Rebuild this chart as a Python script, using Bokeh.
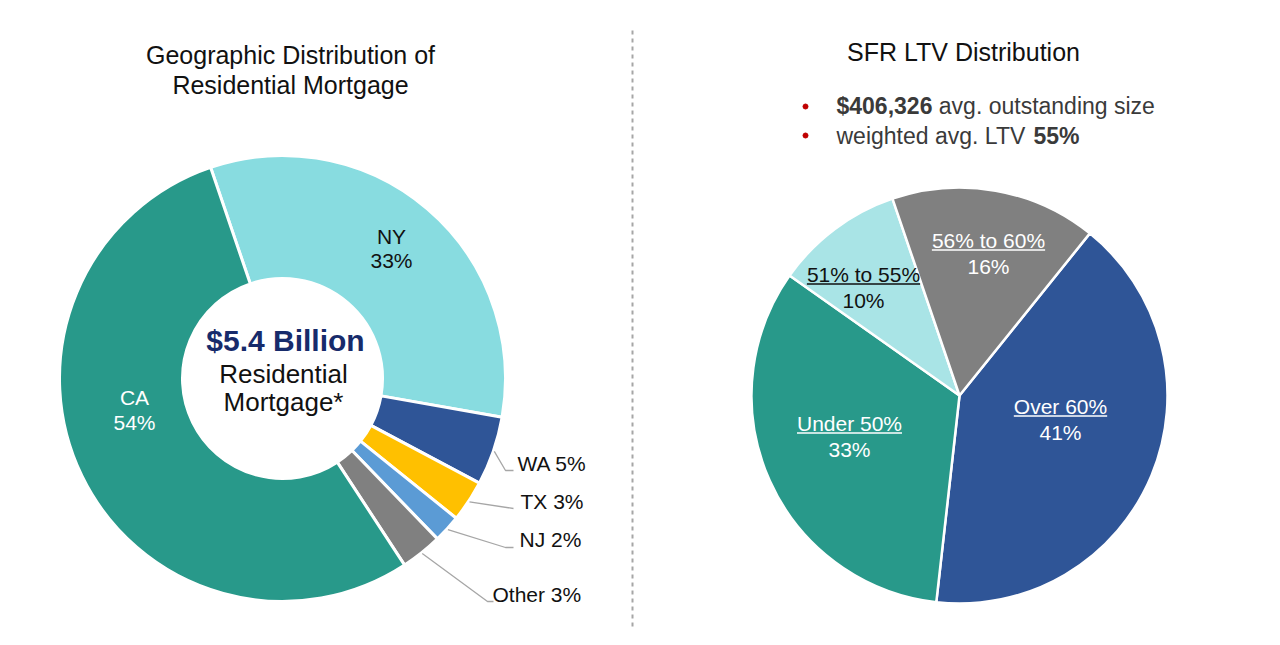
import math
from bokeh.plotting import figure
from bokeh.models import Range1d
from bokeh.core.properties import value
from bokeh.embed import file_html
from bokeh.resources import INLINE

# ---------------- data ----------------
geo_states = ["NY", "WA", "TX", "NJ", "Other", "CA"]
geo_shares = [33, 5, 3, 2, 3, 54]
geo_colors = ["#88DCE0", "#2F5597", "#FFC000", "#5B9BD5", "#808080", "#28998A"]

ltv_buckets = ["Over 60%", "Under 50%", "51% to 55%", "56% to 60%"]
ltv_shares = [41, 33, 10, 16]
ltv_colors = ["#2F5597", "#28998A", "#A9E4E6", "#808080"]

title_left = ["Geographic Distribution of", "Residential Mortgage"]
title_right = "SFR LTV Distribution"
center_lines = ["$5.4 Billion", "Residential", "Mortgage*"]
avg_size = "$406,326"
avg_size_text = "avg. outstanding size"
avg_ltv_text = "weighted avg. LTV"
avg_ltv = "55%"

# ---------------- layout ----------------
W, H = 1264, 629
PAGE_H = 645
FONT = value("Liberation Sans")


def Y(sy):
    return PAGE_H - sy


# Arial / Liberation Sans advance widths (em)
REG = {' ': .278, '$': .556, ',': .278, '.': .278, '%': .889, '*': .389,
       'a': .556, 'b': .556, 'c': .5, 'd': .556, 'e': .556, 'f': .278, 'g': .556,
       'h': .556, 'i': .222, 'l': .222, 'n': .556, 'o': .556, 'r': .333, 's': .5,
       't': .278, 'u': .556, 'v': .5, 'w': .722, 'z': .5, 'L': .556, 'T': .611,
       'V': .667, 'O': .778, 'U': .722}
for d in "0123456789":
    REG[d] = .556


def text_w(s, size):
    return sum(REG.get(c, .556) for c in s) * size


p = figure(width=W, height=H, x_range=Range1d(0, W), y_range=Range1d(PAGE_H - H, PAGE_H),
           output_backend="svg", toolbar_location=None, min_border=0)
p.axis.visible = False
p.grid.visible = False
p.outline_line_color = None
p.background_fill_color = "white"
p.border_fill_color = "white"


def slices(shares, start_cw):
    tot = float(sum(shares))
    a = start_cw
    out = []
    for s in shares:
        b = a + 360.0 * s / tot
        out.append((a, b))
        a = b
    return out


def bk(a_cw):
    return math.radians(90.0 - a_cw)


def txt(xs, ys, texts, size, color="#111111", align="center", bold=False):
    p.text(x=xs, y=[Y(v) for v in ys], text=texts, text_font=FONT, text_font_size=value("%dpx" % size),
           text_font_style="bold" if bold else "normal", text_align=align, text_baseline="middle",
           text_color=color)


# ---- donut ----
DCX, DCY, R_IN, R_OUT = 282, 378, 100, 223
geo_sl = slices(geo_shares, -18.8)
p.annular_wedge(x=[DCX] * len(geo_sl), y=[Y(DCY)] * len(geo_sl), inner_radius=R_IN, outer_radius=R_OUT,
                start_angle=[bk(a) for a, b in geo_sl], end_angle=[bk(b) for a, b in geo_sl],
                direction="clock", fill_color=geo_colors, line_color="white", line_width=3)

# ---- pie ----
PCX, PCY, PR = 959, 395, 208
ltv_sl = slices(ltv_shares, 38.8)
p.wedge(x=[PCX] * len(ltv_sl), y=[Y(PCY)] * len(ltv_sl), radius=PR,
        start_angle=[bk(a) for a, b in ltv_sl], end_angle=[bk(b) for a, b in ltv_sl],
        direction="clock", fill_color=ltv_colors, line_color="white", line_width=2.5)

# ---- separator ----
p.segment(x0=[632], y0=[Y(30)], x1=[632], y1=[Y(645)], line_color="#A6A6A6", line_width=2, line_dash="4 4")

# ---- titles ----
txt([290, 290], [54, 84], title_left, 25)
txt([963], [51.5], [title_right], 25)

# ---- donut center text ----
txt([285], [340], [center_lines[0]], 30, color="#172B6B", bold=True)
txt([283, 283], [373.5, 401.5], center_lines[1:], 26)

# ---- donut inside labels ----
pct = lambda v: "%d%%" % v
i_ny = geo_states.index("NY")
i_ca = geo_states.index("CA")
txt([391, 391], [236, 260], [geo_states[i_ny], pct(geo_shares[i_ny])], 21)
txt([134, 134], [396.5, 421.5], [geo_states[i_ca], pct(geo_shares[i_ca])], 21, color="white")

# ---- donut outside labels with leaders ----
outside = ["WA", "TX", "NJ", "Other"]
label_pos = {"WA": (517, 462.5), "TX": (520, 500.5), "NJ": (519, 538.5), "Other": (492, 593.5)}
elbow = {"WA": (505, 470), "TX": None, "NJ": (505, 547), "Other": (487, 601)}
line_end = {"WA": (513, 470), "TX": (513, 508), "NJ": (513, 547), "Other": (493, 601)}
xs, ys = [], []
for st in outside:
    i = geo_states.index(st)
    a, b = geo_sl[i]
    m = math.radians((a + b) / 2.0)
    sx = DCX + (R_OUT + 1) * math.sin(m)
    sy = DCY - (R_OUT + 1) * math.cos(m)
    pts = [(sx, sy)]
    if elbow[st]:
        pts.append(elbow[st])
    pts.append(line_end[st])
    xs.append([q[0] for q in pts])
    ys.append([Y(q[1]) for q in pts])
p.multi_line(xs=xs, ys=ys, line_color="#A6A6A6", line_width=1.3)
txt([label_pos[s][0] for s in outside], [label_pos[s][1] for s in outside],
    ["%s %s" % (s, pct(geo_shares[geo_states.index(s)])) for s in outside], 21, align="left")

# ---- pie labels (underlined names) ----
pie_pos = {"Over 60%": (1060, 406), "Under 50%": (849, 423), "51% to 55%": (863, 274), "56% to 60%": (988, 240)}
pie_col = {"Over 60%": "white", "Under 50%": "white", "51% to 55%": "#111111", "56% to 60%": "white"}
for name, share in zip(ltv_buckets, ltv_shares):
    cx, my = pie_pos[name]
    col = pie_col[name]
    txt([cx, cx], [my, my + 26], [name, pct(share)], 21, color=col)
    w = text_w(name, 21)
    p.segment(x0=[cx - w / 2], y0=[Y(my + 9.5)], x1=[cx + w / 2], y1=[Y(my + 9.5)], line_color=col,
              line_width=1.3)

# ---- bullets ----
BX = 836
p.scatter(x=[805, 805], y=[Y(106), Y(135)], size=5, marker="circle", fill_color="#C00000", line_color="#C00000")
b1 = text_w(avg_size + " ", 23)
txt([BX], [105], [avg_size], 23, color="#3A3A3A", align="left", bold=True)
txt([BX + b1], [105], [avg_size_text], 23, color="#3A3A3A", align="left")
b2 = text_w(avg_ltv_text + " ", 23)
txt([BX], [135], [avg_ltv_text], 23, color="#3A3A3A", align="left")
txt([BX + b2], [135], [avg_ltv], 23, color="#3A3A3A", align="left", bold=True)

open("out.html", "w").write(file_html(p, INLINE))
